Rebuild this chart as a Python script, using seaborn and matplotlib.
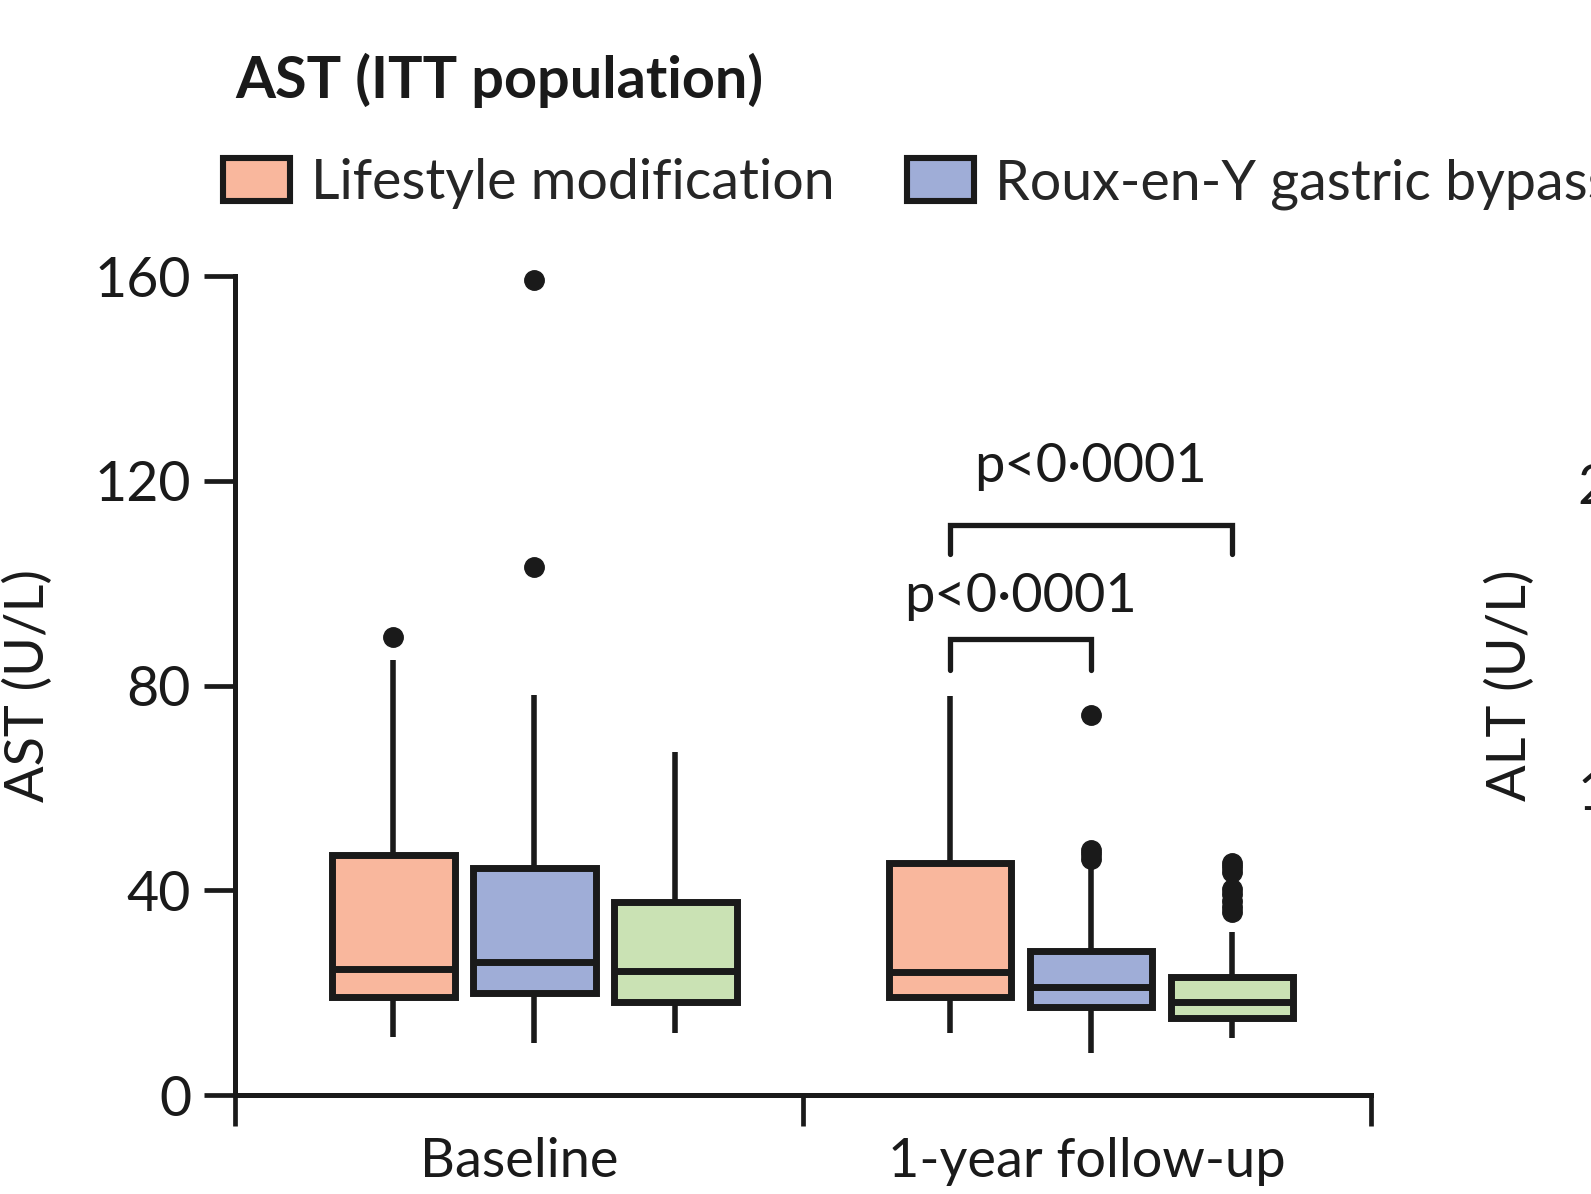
import matplotlib
matplotlib.use("Agg")
import matplotlib.pyplot as plt
import matplotlib.patches as mpatches
import numpy as np
import pandas as pd
import seaborn as sns

# groups and time points
arms = ["Lifestyle modification", "Roux-en-Y gastric bypass", "Sleeve gastrectomy"]
times = ["Baseline", "1-year follow-up"]
colors = ["#F9B79D", "#9FADD7", "#CAE2B4"]

# box summaries (U/L), order = arms
bl_lo = [11.3, 10.1, 12.2]
bl_q1 = [19.2, 19.9, 18.2]
bl_med = [24.7, 26.0, 24.3]
bl_q3 = [46.9, 44.3, 37.8]
bl_hi = [85.0, 78.1, 67.0]
bl_out = [[89.5], [103.1, 159.2], []]

fu_lo = [12.2, 8.3, 11.1]
fu_q1 = [19.2, 17.2, 15.0]
fu_med = [24.1, 21.2, 18.1]
fu_q3 = [45.3, 28.2, 23.1]
fu_hi = [78.0, 44.3, 31.9]
fu_out = [[], [46.2, 47.0, 47.8, 74.2], [35.8, 36.8, 38.0, 39.2, 40.2, 43.5, 44.5, 45.3]]

# p-value brackets
p_text = "p<0·0001"
upper_y, upper_drop, upper_txt = 111.3, 105.7, 119.7
lower_y, lower_drop, lower_txt = 89.1, 83.0, 94.3

# table for seaborn: each quartile value repeated so the box stats come out as read
rows = []
for t, lo, q1, md, q3, hi, out in [
    (times[0], bl_lo, bl_q1, bl_med, bl_q3, bl_hi, bl_out),
    (times[1], fu_lo, fu_q1, fu_med, fu_q3, fu_hi, fu_out),
]:
    for i, arm in enumerate(arms):
        vals = [lo[i]] + [q1[i]] * 20 + [md[i]] * 20 + [q3[i]] * 20 + [hi[i]] + out[i]
        for v in vals:
            rows.append({"time": t, "arm": arm, "AST": v})
df = pd.DataFrame(rows)

sns.set_style("ticks")
plt.rcParams["font.family"] = ["Lato", "DejaVu Sans"]
ink = "#1a1a1a"
lw = 5.0

fig = plt.figure(figsize=(15.91, 11.94), dpi=100)
ax = fig.add_axes([0.148, 0.0829, 0.7137, 0.6859])

box_w = 0.76
sns.boxplot(data=df, x="time", y="AST", hue="arm", order=times, hue_order=arms,
            palette=colors, saturation=1, width=box_w, gap=0.13, linecolor=ink, linewidth=lw,
            showcaps=False, fliersize=14,
            flierprops=dict(marker="o", markerfacecolor=ink, markeredgecolor=ink),
            medianprops=dict(color=ink, linewidth=lw),
            whiskerprops=dict(color=ink, linewidth=lw * 0.8),
            legend=False, ax=ax)
for ln in ax.lines:
    ln.set_clip_on(False)

# the boxes sit a little right of the tick-label centres in the source
x_lo, x_hi = -0.537, 1.503
x_mid = (x_lo + x_hi) / 2
ax.set_xlim(x_lo, x_hi)
ax.set_ylim(0, 160)
ax.set_yticks([0, 40, 80, 120, 160])
ax.set_xticks([(x_lo + x_mid) / 2, (x_mid + x_hi) / 2])
ax.set_xticklabels(times)
ax.set_xticks([x_lo, x_mid, x_hi], minor=True)
ax.tick_params(axis="x", which="major", length=0, pad=30, labelsize=39, colors=ink)
ax.tick_params(axis="x", which="minor", length=22, width=3.4, color=ink)
ax.tick_params(axis="y", length=22, width=3.4, pad=10, labelsize=40, color=ink, labelcolor=ink)
ax.set_xlabel("")
ax.set_ylabel("AST (U/L)", fontsize=39, color=ink)
ax.yaxis.set_label_coords(-0.161, 0.5)
sns.despine(ax=ax)
for s in ["left", "bottom"]:
    ax.spines[s].set_linewidth(3.6)
    ax.spines[s].set_color(ink)

# significance brackets over the follow-up boxes
off = box_w / 3
ax.plot([1 - off, 1 - off, 1 + off, 1 + off], [upper_drop, upper_y, upper_y, upper_drop],
        color=ink, lw=3.8, solid_joinstyle="miter")
ax.text(1, upper_txt, p_text, ha="center", va="baseline", fontsize=39, color=ink)
ax.plot([1 - off, 1 - off, 1, 1], [lower_drop, lower_y, lower_y, lower_drop],
        color=ink, lw=3.8, solid_joinstyle="miter")
ax.text(1 - off / 2, lower_txt, p_text, ha="center", va="baseline", fontsize=39, color=ink)

# legend along the top, runs off the right edge as in the source panel
handles = [mpatches.Patch(facecolor=c, edgecolor=ink, linewidth=4.4) for c in colors]
fig.legend(handles, arms, loc="center left", bbox_to_anchor=(0.1403, 0.846), ncol=3,
           frameon=False, fontsize=40, handlelength=1.2, handleheight=0.82,
           handletextpad=0.38, columnspacing=1.3, borderpad=0, borderaxespad=0)

fig.text(0.148, 0.918, "AST (ITT population)", fontsize=41.5, fontweight="bold",
         ha="left", va="baseline", color=ink)

# neighbouring ALT panel, only its axis label and tick labels show
ax2 = fig.add_axes([1718 / 1591, 0.0829, 0.7137, 0.6859])
ax2.set_ylim(0, 268)
ax2.set_yticks([0, 100, 200])
ax2.set_xticks([])
ax2.tick_params(axis="y", length=22, width=3.4, pad=10, labelsize=40, color=ink, labelcolor=ink)
ax2.set_ylabel("ALT (U/L)", fontsize=39, color=ink)
ax2.yaxis.set_label_coords(-0.161, 0.5)
sns.despine(ax=ax2)

fig.savefig("out.png", dpi=100)
